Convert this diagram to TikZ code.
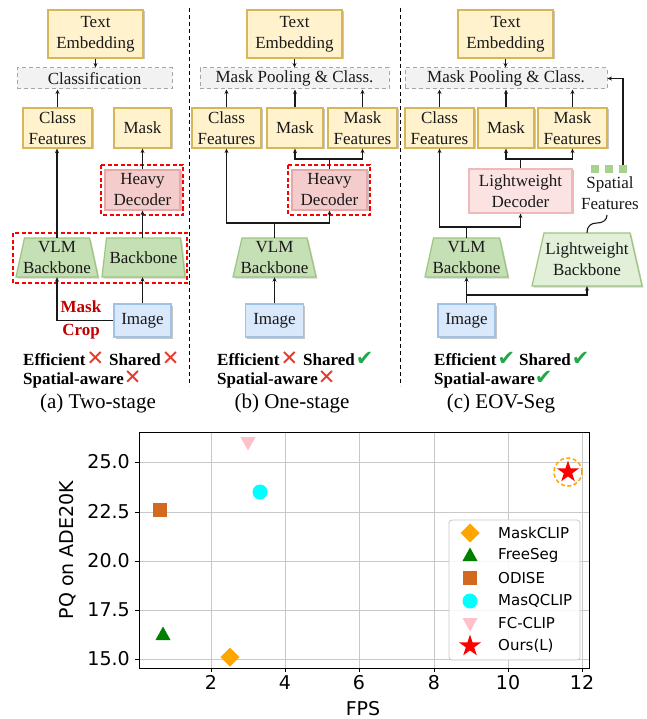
\documentclass[tikz,border=0pt]{standalone}
\usepackage{fontspec}
\setmainfont{Liberation Serif}
\newfontfamily\symfont{DejaVu Sans}
\newfontfamily\plotfont{DejaVu Sans}
\usetikzlibrary{arrows.meta,shadows,shapes.geometric}
\definecolor{yfill}{HTML}{FFF2CC}
\definecolor{ystroke}{HTML}{D6B656}
\definecolor{pfill}{HTML}{F4CCCC}
\definecolor{pstroke}{HTML}{E6A8A8}
\definecolor{lpfill}{HTML}{FBE3E3}
\definecolor{lpstroke}{HTML}{EDB9B9}
\definecolor{gfill}{HTML}{C5E0B4}
\definecolor{lgfill}{HTML}{E2F0D9}
\definecolor{gstroke}{HTML}{9CC67E}
\definecolor{bfill}{HTML}{DAE8FC}
\definecolor{bstroke}{HTML}{9DC3E6}
\definecolor{grfill}{HTML}{F2F2F2}
\definecolor{grstroke}{HTML}{A6A6A6}
\definecolor{darkred}{HTML}{C00000}
\definecolor{xred}{HTML}{E53A28}
\definecolor{cgreen}{HTML}{22A84A}
\definecolor{sqgreen}{HTML}{A9D18E}
\definecolor{gridc}{HTML}{C8C8C8}
\definecolor{mOrange}{HTML}{FFA500}
\definecolor{mGreen}{HTML}{008000}
\definecolor{mBrown}{HTML}{D2691E}
\definecolor{mCyan}{HTML}{00FFFF}
\definecolor{mPink}{HTML}{FFC0CB}
\newcommand\boxfont{\fontsize{17}{21}\selectfont}
\newcommand\xmark{{\symfont\color{xred}\fontsize{21}{21}\selectfont ✕}}
\newcommand\cmark{{\symfont\color{cgreen}\fontsize{21}{21}\selectfont ✔}}
% trapezoid: name, cx, ytop, ybot, tophalf, bothalf, fill, text
\newcommand\trapbox[8]{%
  \fill[black,opacity=0.18] ({#2-#6+1.5},{#4+1.5}) -- ({#2+#6+1.5},{#4+1.5}) -- ({#2+#5+1.5},{#3+1.5}) -- ({#2-#5+1.5},{#3+1.5}) -- cycle;
  \draw[fill=#7,draw=gstroke,line width=1.2pt] ({#2-#6},#4) -- ({#2+#6},#4) -- ({#2+#5},#3) -- ({#2-#5},#3) -- cycle;
  \node[txt,minimum width={2*#6*1pt},minimum height={#4pt-#3pt}] (#1) at (#2,{(#3+#4)/2}) {#8};}
\newcommand\mDiamond[1]{\fill[mOrange] (#1) +(0,-9.5) -- +(9.5,0) -- +(0,9.5) -- +(-9.5,0) -- cycle;}
\newcommand\mTriUp[1]{\fill[mGreen] (#1) +(0,-8.5) -- +(7.5,5) -- +(-7.5,5) -- cycle;}
\newcommand\mSquare[1]{\fill[mBrown] (#1) +(-7,-7) rectangle +(7,7);}
\newcommand\mCircle[1]{\fill[mCyan] (#1) circle[radius=7.5pt];}
\newcommand\mTriDown[1]{\fill[mPink] (#1) +(0,8.5) -- +(7.5,-5) -- +(-7.5,-5) -- cycle;}
\newcommand\mStar[2]{\node[star,star points=5,star point ratio=2.618,fill=red,inner sep=0pt,minimum size=23pt] (#2) at (#1) {};}
\begin{document}
\begin{tikzpicture}[x=1pt,y=-1pt,
  txt/.style={inner sep=0pt,align=center,font=\boxfont,text=black!90},
  box/.style={txt,line width=1.2pt,drop shadow={shadow xshift=1.5pt,shadow yshift=-1.5pt,opacity=0.22,fill=black}},
  ybox/.style={box,fill=yfill,draw=ystroke},
  pbox/.style={box,fill=pfill,draw=pstroke},
  lpbox/.style={box,fill=lpfill,draw=lpstroke},
  bbox/.style={box,fill=bfill,draw=bstroke},
  gbox/.style={txt,fill=grfill,draw=grstroke,line width=1pt,dash pattern=on 4pt off 3pt},
  rdash/.style={draw=red,line width=1.6pt,dash pattern=on 4pt off 2.5pt},
  arr/.style={-{Stealth[length=4.5pt,width=4pt]},line width=1.1pt,draw=black!90},
  ln/.style={line width=1.1pt,draw=black!90},
  sepline/.style={line width=1pt,dash pattern=on 4pt off 3pt},
  crop/.style={inner sep=0pt,align=center,font=\fontsize{17}{23}\selectfont\bfseries,text=darkred},
  prop/.style={inner sep=0pt,anchor=base west,font=\fontsize{17}{21}\selectfont\bfseries},
  capt/.style={inner sep=0pt,font=\fontsize{21}{25}\selectfont},
  sqr/.style={fill=sqgreen,minimum size=8pt,inner sep=0pt},
  tick/.style={inner sep=0pt,font=\plotfont\fontsize{19}{22}\selectfont},
  leg/.style={inner sep=0pt,anchor=west,font=\plotfont\fontsize{15}{18}\selectfont},
  grid/.style={draw=gridc,line width=1pt}]
\useasboundingbox (0,0) rectangle (646,719);
\fill[white] (0,0) rectangle (646,719);

% separators
\draw[sepline] (189,8) -- (189,386);
\draw[sepline] (400,8) -- (400,386);

% ---------- (a) two-stage ----------
\node[ybox,minimum width=95pt,minimum height=48pt] (teA) at (95.5,34) {Text\\Embedding};
\node[gbox,minimum width=155pt,minimum height=21pt] (clsA) at (94.5,78.5) {Classification};
\node[ybox,minimum width=69pt,minimum height=40pt] (cfA) at (57.5,128) {Class\\Features};
\node[ybox,minimum width=57pt,minimum height=40pt] (maskA) at (142.5,128) {Mask};
\draw[rdash] (101,165) rectangle (183,215);
\node[pbox,minimum width=75pt,minimum height=40pt] (hdA) at (142.5,190) {Heavy\\Decoder};
\draw[rdash] (13,233) rectangle (187,283);
\trapbox{vlmA}{57}{238}{277}{32.5}{41}{gfill}{VLM\\Backbone}
\trapbox{bbA}{143.5}{238}{277}{37}{41.5}{gfill}{Backbone}
\node[bbox,minimum width=57pt,minimum height=33pt] (imgA) at (142.5,320.5) {Image};
\draw[arr] (teA.south) -- (teA.south |- clsA.north);
\draw[arr] (cfA.north) -- (cfA.north |- clsA.south);
\draw[arr] (hdA.north) -- (maskA.south);
\draw[arr] (vlmA.north) -- (vlmA.north |- cfA.south);
\draw[arr] (imgA.north) -- (imgA.north |- bbA.south);
\draw[arr] (bbA.north -| hdA.south) -- (hdA.south);
\draw[arr] (imgA.west) -| (vlmA.south);
\node[crop] (cropA) at (81,319.5) {Mask\\Crop};
\node[prop] (effA) at (23,365) {Efficient\hspace{1pt}\xmark\hspace{5pt}Shared\hspace{1pt}\xmark};
\node[prop] (spaA) at (23,384) {Spatial-aware\xmark};
\node[capt] (capA) at (98,403) {(a) Two-stage};

% ---------- (b) one-stage ----------
\node[ybox,minimum width=95pt,minimum height=48pt] (teB) at (294.5,34) {Text\\Embedding};
\node[gbox,minimum width=189pt,minimum height=21pt] (poolB) at (294.5,78.5) {Mask Pooling \& Class.};
\node[ybox,minimum width=69pt,minimum height=40pt] (cfB) at (226.5,128) {Class\\Features};
\node[ybox,minimum width=56pt,minimum height=40pt] (maskB) at (295,128) {Mask};
\node[ybox,minimum width=69pt,minimum height=40pt] (mfB) at (362.5,128) {Mask\\Features};
\draw[rdash] (288,165) rectangle (370,215);
\node[pbox,minimum width=75pt,minimum height=40pt] (hdB) at (329.5,190) {Heavy\\Decoder};
\trapbox{vlmB}{274.5}{238}{277}{32.5}{41.5}{gfill}{VLM\\Backbone}
\node[bbox,minimum width=58pt,minimum height=33pt] (imgB) at (274.5,320.5) {Image};
\coordinate (forkB) at (329.5,159);
\coordinate (joinB) at (274.5,223);
\draw[arr] (teB.south) -- (teB.south |- poolB.north);
\draw[arr] (cfB.north) -- (cfB.north |- poolB.south);
\draw[arr] (maskB.north) -- (maskB.north |- poolB.south);
\draw[arr] (mfB.north) -- (mfB.north |- poolB.south);
\draw[ln] (hdB.north) -- (forkB);
\draw[arr] (forkB) -| (maskB.south);
\draw[arr] (forkB) -| (mfB.south);
\draw[ln] (vlmB.north) -- (joinB);
\draw[arr] (joinB) -| (cfB.south);
\draw[arr] (joinB) -| (hdB.south);
\draw[arr] (imgB.north) -- (vlmB.south);
\node[prop] (effB) at (217,365) {Efficient\hspace{1pt}\xmark\hspace{5pt}Shared\hspace{1pt}\cmark};
\node[prop] (spaB) at (217,384) {Spatial-aware\xmark};
\node[capt] (capB) at (292,403) {(b) One-stage};

% ---------- (c) EOV-Seg ----------
\node[ybox,minimum width=95pt,minimum height=48pt] (teC) at (505.5,34) {Text\\Embedding};
\node[gbox,minimum width=202pt,minimum height=21pt] (poolC) at (506,78.5) {Mask Pooling \& Class.};
\node[ybox,minimum width=69pt,minimum height=40pt] (cfC) at (439.5,128) {Class\\Features};
\node[ybox,minimum width=56pt,minimum height=40pt] (maskC) at (506,128) {Mask};
\node[ybox,minimum width=69pt,minimum height=40pt] (mfC) at (572.5,128) {Mask\\Features};
\node[lpbox,minimum width=103pt,minimum height=44pt] (ldC) at (520.5,191) {Lightweight\\Decoder};
\trapbox{vlmC}{466.5}{238}{277}{33}{41.5}{gfill}{VLM\\Backbone}
\trapbox{lbC}{587}{233}{286}{43}{55}{lgfill}{Lightweight\\Backbone}
\node[bbox,minimum width=57pt,minimum height=33pt] (imgC) at (466.5,320.5) {Image};
\node[sqr] (sq1) at (595,169) {};
\node[sqr] (sq2) at (609,169) {};
\node[sqr] (sq3) at (623,169) {};
\node[txt] (sfC) at (610,193.5) {Spatial\\Features};
\coordinate (forkC) at (520.5,159);
\coordinate (joinC) at (466.5,227);
\coordinate (splitC) at (466.5,295);
\coordinate (sqEnd) at (607,215);
\draw[arr] (teC.south) -- (teC.south |- poolC.north);
\draw[arr] (cfC.north) -- (cfC.north |- poolC.south);
\draw[arr] (maskC.north) -- (maskC.north |- poolC.south);
\draw[arr] (mfC.north) -- (mfC.north |- poolC.south);
\draw[ln] (ldC.north) -- (forkC);
\draw[arr] (forkC) -| (maskC.south);
\draw[arr] (forkC) -| (mfC.south);
\draw[ln] (vlmC.north) -- (joinC);
\draw[arr] (joinC) -| (cfC.south);
\draw[arr] (joinC) -| (ldC.south);
\draw[arr] (imgC.north) -- (vlmC.south);
\draw[arr] (splitC) -| (lbC.south);
\draw[arr] (sq3.north) |- (poolC.east);
\draw[ln] (lbC.north) .. controls (587,226) and (591,223) .. (597,223) .. controls (603,223) and (607,220) .. (sqEnd);
\node[prop] (effC) at (434,365) {Efficient\hspace{1pt}\cmark\hspace{4pt}Shared\hspace{1pt}\cmark};
\node[prop] (spaC) at (434,384) {Spatial-aware\cmark};
\node[capt] (capC) at (501,403) {(c) EOV-Seg};

% ---------- plot ----------
\foreach \x in {211,285,359,434,508,582} \draw[grid] (\x,432) -- (\x,668);
\foreach \y in {462,512,561,610,659} \draw[grid] (139,\y) -- (589,\y);
\foreach \x/\l in {211/2,285/4,359/6,434/8,508/10,582/12} {
  \draw[line width=0.9pt] (\x,668) -- (\x,672);
  \node[tick,anchor=north] (xt\l) at (\x,675) {\l};}
\foreach \y/\l/\n in {462/25.0/a,512/22.5/b,561/20.0/c,610/17.5/d,659/15.0/e} {
  \draw[line width=0.9pt] (135,\y) -- (139,\y);
  \node[tick,anchor=east] (yt\n) at (130,\y) {\l};}
\node[tick,rotate=90] (ylab) at (68,550) {PQ on ADE20K};
\node[tick] (xlab) at (363,709) {FPS};
% data
\mSquare{160,510}
\mTriUp{163,635}
\mDiamond{230,657}
\mCircle{260,492}
\mTriDown{248,442}
\mStar{568,472}{oursPt}
\draw[mOrange,line width=1.5pt,dash pattern=on 4pt off 2.5pt] (568,472) circle[radius=14pt];
\draw[line width=0.9pt] (139,432) rectangle (589,668);
% legend
\draw[draw=gridc,fill=white,fill opacity=0.85,rounded corners=3pt,line width=0.8pt] (449,520) rectangle (580,660);
\mDiamond{470,533}
\mTriUp{470,556}
\mSquare{470,578}
\mCircle{470,601}
\mTriDown{470,623}
\mStar{470,646}{legStar}
\node[leg] (l1) at (498,533) {MaskCLIP};
\node[leg] (l2) at (498,555) {FreeSeg};
\node[leg] (l3) at (498,578) {ODISE};
\node[leg] (l4) at (498,601) {MasQCLIP};
\node[leg] (l5) at (498,623) {FC-CLIP};
\node[leg] (l6) at (498,646) {Ours(L)};
\end{tikzpicture}
\end{document}
